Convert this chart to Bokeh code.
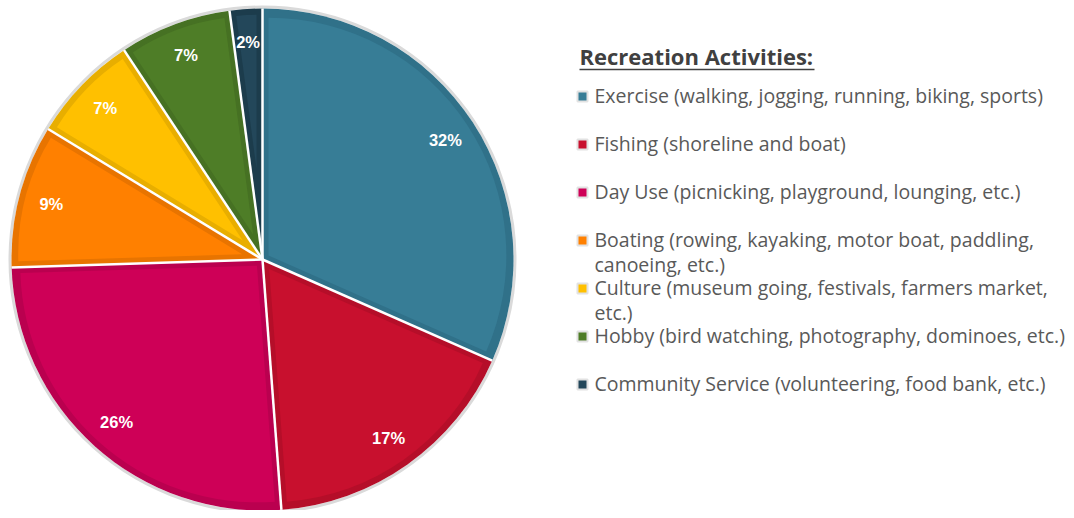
import numpy as np
from bokeh.plotting import figure
from bokeh.models import Range1d
from bokeh.embed import file_html
from bokeh.resources import INLINE
from bokeh.core.properties import value

# ---- data ----
legend_title = "Recreation Activities:"
categories = [
    "Exercise (walking, jogging, running, biking, sports)",
    "Fishing (shoreline and boat)",
    "Day Use (picnicking, playground, lounging, etc.)",
    "Boating (rowing, kayaking, motor boat, paddling,\ncanoeing, etc.)",
    "Culture (museum going, festivals, farmers market,\netc.)",
    "Hobby (bird watching, photography, dominoes, etc.)",
    "Community Service (volunteering, food bank, etc.)",
]
shares = [31.6, 17.2, 25.7, 9.2, 7.0, 7.2, 2.1]
fill_colors = ["#377D96", "#C8102E", "#CE0057", "#FF8000", "#FFC000", "#4E7D27", "#23475A"]
edge_colors = ["#307189", "#B50E29", "#BA004F", "#E87400", "#E8AE00", "#467123", "#1C3C4C"]

# ---- layout ----
W, H = 1066, 510
p = figure(width=W, height=H, x_range=Range1d(0, W), y_range=Range1d(0, H),
           output_backend="svg", toolbar_location=None, min_border=0,
           x_axis_type=None, y_axis_type=None)
p.grid.visible = False
p.outline_line_color = None
p.background_fill_color = "white"
p.border_fill_color = "white"

cx, cy, R, b = 262, H - 259, 251, 6
vals = np.array(shares, dtype=float)
frac = vals / vals.sum()
cum = np.cumsum(frac)
prev = np.concatenate([[0.0], cum[:-1]])
start = np.pi / 2 - 2 * np.pi * prev
end = np.pi / 2 - 2 * np.pi * cum
mid = (start + end) / 2
half = np.pi * frac

# outer soft rim
p.circle(x=cx, y=cy, radius=R + 1.5, fill_color=None, line_color="#DADADA", line_width=3)
# darker edge of each slice
p.wedge(x=cx, y=cy, radius=R, start_angle=start, end_angle=end, direction="clock",
        fill_color=edge_colors, line_color=None)
# inner, lighter part of each slice (inset by b px)
d = b / np.sin(half)
p.wedge(x=cx + d * np.cos(mid), y=cy + d * np.sin(mid), radius=R - b - d,
        start_angle=start, end_angle=end, direction="clock",
        fill_color=fill_colors, line_color=None)
# white separators
p.ray(x=cx, y=cy, length=R, angle=start, line_color="white", line_width=2.5)

# percentage labels
lr = 0.87 * R
p.text(x=cx + lr * np.cos(mid), y=cy + lr * np.sin(mid),
       text=[f"{round(v)}%" for v in shares], text_color="white",
       text_font=value("Liberation Sans"), text_font_style="bold",
       text_font_size="16.5px", text_align="center", text_baseline="middle")

# legend
n = len(categories)
ly = H - 96 - 48 * np.arange(n)
p.scatter(x=582, y=ly, marker="square", size=10, fill_color=fill_colors,
          line_color="#E2E2E2", line_width=2)
p.text(x=594, y=ly + 15, text=categories, text_color="#595959",
       text_font=value("Open Sans"), text_font_size="19.5px",
       text_align="left", text_baseline="top", text_line_height=0.95)
p.text(x=[579], y=[H - 55], text=[legend_title], text_color="#404040",
       text_font=value("Open Sans"), text_font_style="bold", text_font_size="22px",
       text_align="left", text_baseline="alphabetic")
p.segment(x0=579, y0=H - 69, x1=814, y1=H - 69, line_color="#404040", line_width=1.6)

open("out.html", "w").write(file_html(p, INLINE))
